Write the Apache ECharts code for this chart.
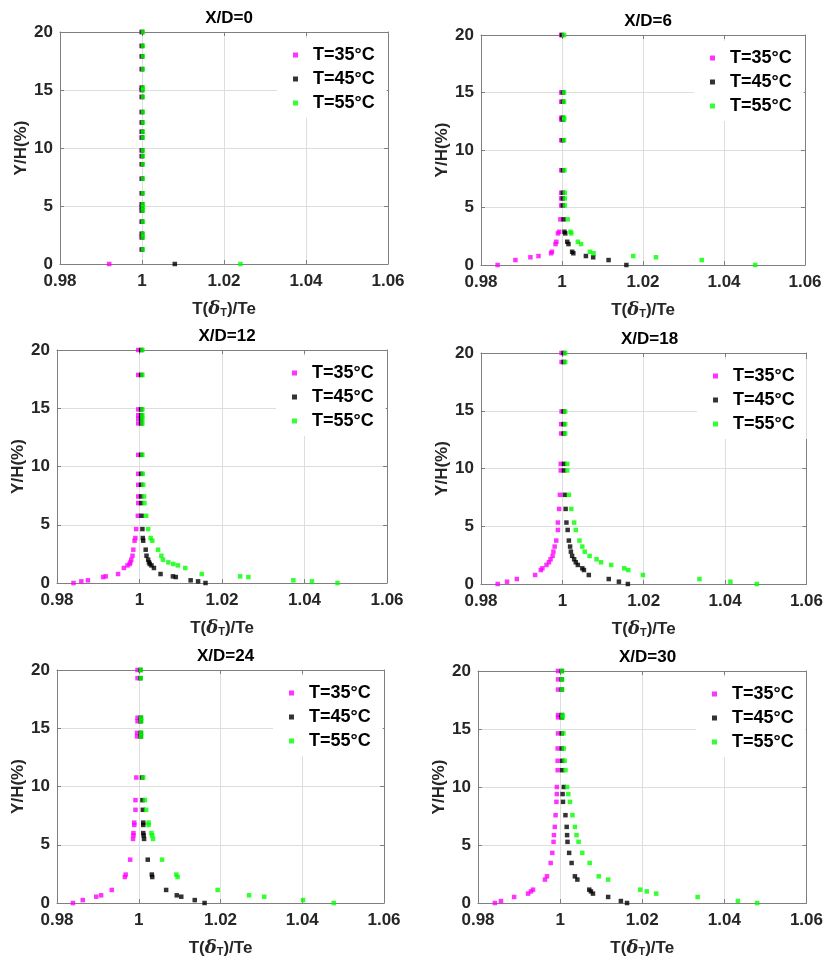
<!DOCTYPE html>
<html><head><meta charset="utf-8">
<script src="https://cdn.jsdelivr.net/npm/echarts@6/dist/echarts.min.js"></script>
<style>html,body{margin:0;padding:0;background:#fff}#c{width:826px;height:958px}</style>
</head><body><div id="c"></div><script>
// ---- data ----
const panelTitles = ['X/D=0', 'X/D=6', 'X/D=12', 'X/D=18', 'X/D=24', 'X/D=30'];
const seriesNames = ['T=35°C', 'T=45°C', 'T=55°C'];
const xTickValues = [0.98, 1.00, 1.02, 1.04, 1.06];
const yTickValues = [0, 5, 10, 15, 20];

// X/D=0
const y0 = [0, 1.25, 2.3, 2.6, 3.65, 4.6, 4.9, 5.15, 6.1, 7.35, 8.6, 9.3, 9.8, 10.9, 11.4, 12.2, 13.1, 14.4, 15.0, 15.2, 16.8, 17.9, 18.8, 20];
const t35_0 = [0.992, 0.9999, 0.9999, 0.9999, 0.9999, 0.9999, 0.9999, 0.9999, 0.9999, 0.9999, 0.9999, 0.9999, 0.9999, 0.9999, 0.9999, 0.9999, 0.9999, 0.9999, 0.9999, 0.9999, 0.9999, 0.9999, 0.9999, 0.9999];
const t45_0 = [1.008, 1.0, 1.0, 1.0, 1.0, 1.0, 1.0, 1.0, 1.0, 1.0, 1.0, 1.0, 1.0, 1.0, 1.0, 1.0, 1.0, 1.0, 1.0, 1.0, 1.0, 1.0, 1.0, 1.0];
const t55_0 = [1.024, 1.0002, 1.0002, 1.0002, 1.0002, 1.0002, 1.0002, 1.0002, 1.0002, 1.0002, 1.0002, 1.0002, 1.0002, 1.0002, 1.0002, 1.0002, 1.0002, 1.0002, 1.0002, 1.0002, 1.0002, 1.0002, 1.0002, 1.0002];

// X/D=6
const y6 = [0, 0.43, 0.67, 0.78, 1.02, 1.15, 1.82, 2.02, 2.75, 2.89, 3.97, 5.18, 5.79, 6.28, 8.24, 10.85, 12.65, 12.8, 14.2, 15.0, 20];
const t35_6 = [0.9841, 0.9885, 0.9922, 0.9942, 0.9973, 0.9975, 0.9984, 0.9986, 0.9990, 0.9993, 0.9996, 0.9998, 0.9998, 0.9998, 0.9998, 0.9998, 0.9998, 0.9998, 0.9998, 0.9998, 0.9998];
const t45_6 = [1.0159, 1.0115, 1.0077, 1.0059, 1.0028, 1.0025, 1.0016, 1.0013, 1.0008, 1.0006, 1.0004, 1.0002, 1.0002, 1.0002, 1.0002, 1.0002, 1.0002, 1.0002, 1.0002, 1.0002, 1.0000];
const t55_6 = [1.0477, 1.0345, 1.0232, 1.0176, 1.0078, 1.0069, 1.0047, 1.0039, 1.0023, 1.0021, 1.0014, 1.0007, 1.0007, 1.0007, 1.0006, 1.0005, 1.0005, 1.0005, 1.0005, 1.0005, 1.0005];

// X/D=12
const y12 = [0, 0.14, 0.23, 0.51, 0.57, 0.77, 1.29, 1.51, 1.63, 1.77, 2.0, 2.34, 2.86, 3.63, 3.86, 4.63, 5.77, 6.86, 7.43, 8.43, 9.37, 11.0, 13.7, 14.1, 14.4, 14.9, 17.86, 20];
const t35_12 = [0.9840, 0.9859, 0.9875, 0.9912, 0.9918, 0.9948, 0.9962, 0.9971, 0.9976, 0.9978, 0.9980, 0.9983, 0.9985, 0.9988, 0.9990, 0.9992, 0.9996, 0.9997, 0.9997, 0.9997, 0.9997, 0.9997, 0.9997, 0.9997, 0.9997, 0.9997, 0.9997, 0.9997];
const t45_12 = [1.0160, 1.0142, 1.0124, 1.0088, 1.0081, 1.0051, 1.0035, 1.0029, 1.0025, 1.0023, 1.0021, 1.0017, 1.0015, 1.0009, 1.0008, 1.0007, 1.0005, 1.0004, 1.0004, 1.0004, 1.0004, 1.0004, 1.0004, 1.0004, 1.0004, 1.0004, 1.0004, 1.0004];
const t55_12 = [1.0480, 1.0418, 1.0373, 1.0264, 1.0244, 1.0151, 1.0111, 1.0093, 1.0082, 1.0070, 1.0057, 1.0053, 1.0045, 1.0031, 1.0027, 1.0021, 1.0016, 1.0012, 1.0011, 1.0009, 1.0008, 1.0007, 1.0007, 1.0007, 1.0007, 1.0007, 1.0007, 1.0007];

// X/D=18
const y18 = [0, 0.2, 0.43, 0.78, 1.21, 1.36, 1.65, 1.88, 2.14, 2.43, 2.8, 3.24, 3.76, 4.68, 5.32, 6.5, 7.72, 9.83, 10.4, 13.03, 13.84, 14.94, 19.22, 20];
const t35_18 = [0.9841, 0.9864, 0.9888, 0.9933, 0.9947, 0.9951, 0.9961, 0.9967, 0.9971, 0.9976, 0.9978, 0.9981, 0.9985, 0.9989, 0.9989, 0.9992, 0.9994, 0.9996, 0.9996, 0.9997, 0.9997, 0.9998, 0.9998, 0.9998];
const t45_18 = [1.0161, 1.0139, 1.0114, 1.0065, 1.0053, 1.0049, 1.0038, 1.0033, 1.0029, 1.0024, 1.0021, 1.0019, 1.0016, 1.0013, 1.0010, 1.0008, 1.0006, 1.0004, 1.0004, 1.0003, 1.0003, 1.0003, 1.0003, 1.0003];
const t55_18 = [1.0478, 1.0413, 1.0337, 1.0198, 1.0162, 1.0152, 1.0120, 1.0095, 1.0084, 1.0067, 1.0055, 1.0049, 1.0042, 1.0033, 1.0029, 1.0022, 1.0016, 1.0012, 1.0012, 1.0007, 1.0007, 1.0007, 1.0007, 1.0007];

// X/D=24
const y24 = [0, 0.25, 0.54, 0.66, 1.12, 2.23, 2.44, 3.72, 5.5, 5.8, 6.0, 6.7, 6.9, 8.0, 8.83, 10.77, 14.3, 14.6, 15.6, 15.9, 19.3, 20];
const t35_24 = [0.9839, 0.9863, 0.9896, 0.9908, 0.9934, 0.9966, 0.9968, 0.9979, 0.9986, 0.9987, 0.9987, 0.9989, 0.9989, 0.9992, 0.9992, 0.9994, 0.9996, 0.9996, 0.9997, 0.9997, 0.9997, 0.9997];
const t45_24 = [1.0161, 1.0137, 1.0104, 1.0093, 1.0067, 1.0033, 1.0032, 1.0022, 1.0013, 1.0012, 1.0011, 1.0011, 1.0011, 1.0010, 1.0009, 1.0008, 1.0005, 1.0005, 1.0005, 1.0005, 1.0004, 1.0004];
const t55_24 = [1.0477, 1.0402, 1.0307, 1.0270, 1.0193, 1.0095, 1.0092, 1.0057, 1.0035, 1.0033, 1.0031, 1.0024, 1.0024, 1.0018, 1.0015, 1.0011, 1.0006, 1.0006, 1.0006, 1.0006, 1.0005, 1.0005];

// X/D=30
const y30 = [0, 0.17, 0.52, 0.81, 1.0, 1.15, 2.02, 2.3, 3.45, 4.32, 5.27, 5.85, 6.56, 7.57, 8.72, 9.39, 10.0, 11.45, 12.26, 13.32, 14.62, 16.0, 16.2, 18.4, 19.28, 20];
const t35_30 = [0.9841, 0.9856, 0.9888, 0.9922, 0.9929, 0.9934, 0.9963, 0.9968, 0.9977, 0.9981, 0.9984, 0.9985, 0.9987, 0.9989, 0.9991, 0.9992, 0.9992, 0.9994, 0.9994, 0.9994, 0.9995, 0.9995, 0.9995, 0.9995, 0.9995, 0.9995];
const t45_30 = [1.0163, 1.0148, 1.0117, 1.0080, 1.0075, 1.0071, 1.0042, 1.0036, 1.0028, 1.0022, 1.0018, 1.0017, 1.0016, 1.0013, 1.0007, 1.0006, 1.0009, 1.0005, 1.0005, 1.0004, 1.0004, 1.0004, 1.0004, 1.0004, 1.0004, 1.0004];
const t55_30 = [1.0480, 1.0433, 1.0335, 1.0234, 1.0211, 1.0195, 1.0117, 1.0094, 1.0072, 1.0054, 1.0045, 1.0040, 1.0036, 1.0030, 1.0024, 1.0020, 1.0017, 1.0013, 1.0011, 1.0009, 1.0008, 1.0006, 1.0006, 1.0005, 1.0005, 1.0005];

const panelY = [y0, y6, y12, y18, y24, y30];
const panelX = [
  [t35_0, t45_0, t55_0],
  [t35_6, t45_6, t55_6],
  [t35_12, t45_12, t55_12],
  [t35_18, t45_18, t55_18],
  [t35_24, t45_24, t55_24],
  [t35_30, t45_30, t55_30]
];

// ---- layout / style ----
const colors = ['#ff00ff', '#000000', '#00ff00'];
const boxes = [
  {left: 60, top: 32, width: 328, height: 232},
  {left: 481, top: 35, width: 324, height: 230},
  {left: 57, top: 350, width: 330, height: 233},
  {left: 481, top: 353, width: 327, height: 231},
  {left: 57, top: 670, width: 327, height: 233},
  {left: 478, top: 671, width: 329, height: 232}
];
const FONT = 'Arial, "Liberation Sans", sans-serif';
const axisColor = '#7f7f7f';
const textColor = '#262626';
const xMin = xTickValues[0], xMax = xTickValues[xTickValues.length - 1];
const xStep = +(xTickValues[1] - xTickValues[0]).toFixed(4);
const yMin = yTickValues[0], yMax = yTickValues[yTickValues.length - 1];
const yStep = yTickValues[1] - yTickValues[0];

const grid = [], xAxis = [], yAxis = [], series = [], title = [], legend = [];
boxes.forEach((b, i) => {
  grid.push({left: b.left, top: b.top, width: b.width, height: b.height, containLabel: false});
  const common = {
    gridIndex: i, type: 'value',
    axisLine: {show: true, onZero: false, lineStyle: {color: axisColor, width: 1}},
    axisTick: {show: true, inside: true, length: 4, lineStyle: {color: axisColor}}
  };
  xAxis.push(Object.assign({}, common, {
    position: 'bottom', min: xMin, max: xMax, interval: xStep,
    axisLabel: {fontSize: 17, fontWeight: 'bold', color: textColor, fontFamily: FONT, margin: 9},
    splitLine: {show: true, lineStyle: {color: '#dedede', width: 1}},
    name: 'T({d|δ}{s|T})/Te', nameLocation: 'middle', nameGap: 36,
    nameTextStyle: {fontSize: 17, fontWeight: 'bold', color: textColor, fontFamily: FONT,
      rich: {
        d: {fontSize: 18, fontStyle: 'italic', fontFamily: '"DejaVu Serif", "Liberation Serif", serif', color: textColor},
        s: {fontSize: 11, fontWeight: 'bold', fontFamily: FONT, color: textColor, verticalAlign: 'bottom', padding: [6, 0, 0, 0]}
      }}
  }));
  xAxis.push(Object.assign({}, common, {
    position: 'top', min: xMin, max: xMax, interval: xStep,
    axisLabel: {show: false}, splitLine: {show: false}
  }));
  yAxis.push(Object.assign({}, common, {
    position: 'left', min: yMin, max: yMax, interval: yStep,
    axisLabel: {fontSize: 17, fontWeight: 'bold', color: textColor, fontFamily: FONT, margin: 7},
    splitLine: {show: true, lineStyle: {color: '#dedede', width: 1}},
    name: 'Y/H(%)', nameLocation: 'middle', nameGap: 30,
    nameTextStyle: {fontSize: 17, fontWeight: 'bold', color: textColor, fontFamily: FONT}
  }));
  yAxis.push(Object.assign({}, common, {
    position: 'right', min: yMin, max: yMax, interval: yStep,
    axisLabel: {show: false}, splitLine: {show: false}
  }));
  panelX[i].forEach((xs, s) => {
    series.push({
      type: 'scatter', name: seriesNames[s],
      xAxisIndex: 2 * i, yAxisIndex: 2 * i,
      symbol: 'rect', symbolSize: 4.5,
      itemStyle: {color: colors[s]},
      data: xs.map((x, k) => [x, panelY[i][k]]),
      z: 2 + s
    });
  });
  title.push({
    text: panelTitles[i], left: b.left + b.width / 2, top: b.top - 27, textAlign: 'center',
    textStyle: {fontSize: 17, fontWeight: 'bold', color: '#000', fontFamily: FONT}
  });
  legend.push({
    data: seriesNames, orient: 'vertical',
    left: b.left + b.width - 111, top: b.top + 6,
    padding: [8, 12, 6, 16], itemGap: 6,
    backgroundColor: '#ffffff',
    icon: 'rect', itemWidth: 5, itemHeight: 5,
    selectedMode: false,
    textStyle: {fontSize: 18, fontWeight: 'bold', color: '#000', fontFamily: FONT, lineHeight: 18, padding: [0, 0, 0, 10]}
  });
});

const chart = echarts.init(document.getElementById('c'), null, {renderer: 'canvas'});
chart.setOption({
  backgroundColor: '#ffffff',
  animation: false,
  title, legend, grid, xAxis, yAxis, series
});
</script></body></html>
